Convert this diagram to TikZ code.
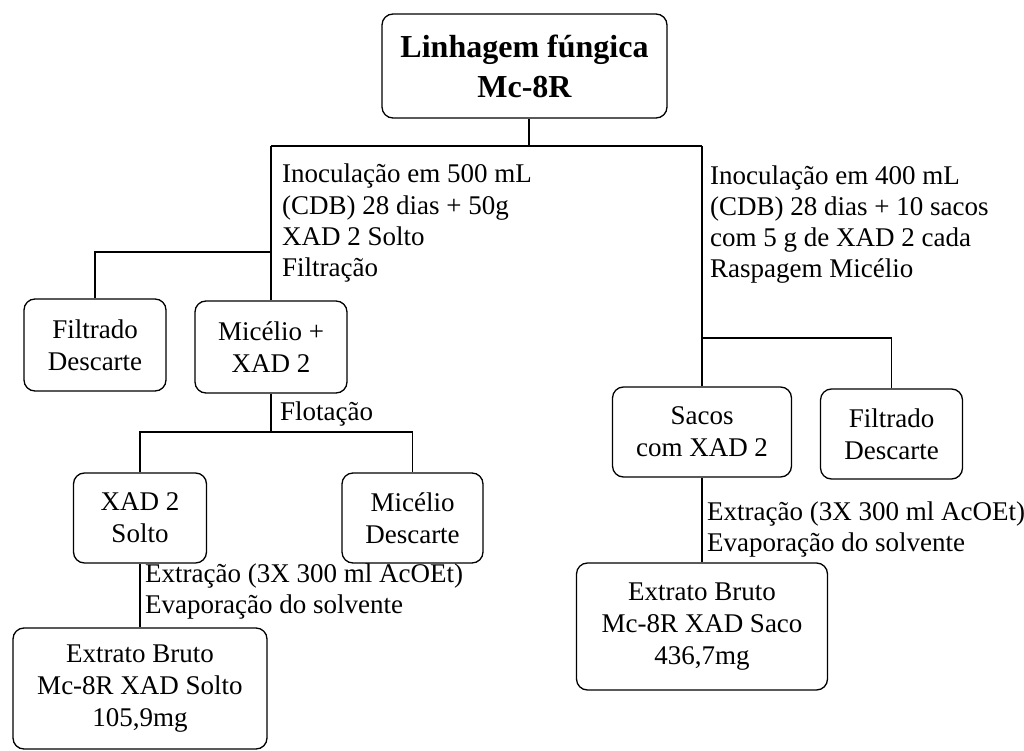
\documentclass[tikz,border=0pt]{standalone}
\usepackage{fontspec}
\setmainfont{Liberation Serif}
\begin{document}
\begin{tikzpicture}[x=1pt,y=-1pt,
  box/.style={draw, line width=1.3pt, rounded corners=11pt, align=center,
    inner sep=0pt, font=\fontsize{27}{32}\selectfont},
  note/.style={anchor=base west, inner sep=0pt, align=left,
    font=\fontsize{27}{31}\selectfont},
  link/.style={line width=1.3pt}]
\useasboundingbox (0,0) rectangle (1024,751);

% boxes
\node[box, minimum width=285pt, minimum height=104pt,
      font=\fontsize{32}{40}\selectfont\bfseries] (top) at (524.5,66) {Linhagem fúngica\\Mc-8R};
\node[box, minimum width=142pt, minimum height=92pt] (filtL) at (95,345) {Filtrado\\Descarte};
\node[box, minimum width=152pt, minimum height=92pt] (mic) at (271,347) {Micélio +\\XAD 2};
\node[box, minimum width=133pt, minimum height=90pt] (xad) at (140,518) {XAD 2\\Solto};
\node[box, minimum width=141pt, minimum height=90pt] (micD) at (412.5,518) {Micélio\\Descarte};
\node[box, minimum width=254pt, minimum height=121pt] (extL) at (140,688.5) {Extrato Bruto\\Mc-8R XAD Solto\\105,9mg};
\node[box, minimum width=179pt, minimum height=90pt] (sacos) at (702,432) {Sacos\\com XAD 2};
\node[box, minimum width=142pt, minimum height=90pt] (filtR) at (891.5,434) {Filtrado\\Descarte};
\node[box, minimum width=251pt, minimum height=127pt] (extR) at (702,626.5) {Extrato Bruto\\Mc-8R XAD Saco\\436,7mg};

% junction points
\coordinate (jT) at (529,146);
\coordinate (jL) at (271,146);
\coordinate (jR) at (702,146);
\coordinate (jL2) at (271,252);
\coordinate (jR2) at (702,338);
\coordinate (jF) at (271,432);

% connectors
\draw[link] (top.south -| jT) -- (jT);
\draw[link] (jL) -- (jR);
\draw[link] (jL) -- (mic.north);
\draw[link] (filtL.north) |- (jL2);
\draw[link] (jR) -- (sacos.north);
\draw[link] (filtR.north) |- (jR2);
\draw[link] (mic.south) -- (jF);
\draw[link] (xad.north) |- (jF) -| (micD.north);
\draw[link] (xad.south) -- (extL.north);
\draw[link] (sacos.south) -- (extR.north);

% step labels (anchored at the baseline of their last line)
\node[note] (lblL) at (282,276) {Inoculação em 500 mL\\(CDB) 28 dias + 50g\\XAD 2 Solto\\Filtração};
\node[note] (lblR) at (710,277) {Inoculação em 400 mL\\(CDB) 28 dias + 10 sacos\\com 5 g de XAD 2 cada\\Raspagem Micélio};
\node[note] (lblF) at (280,420) {Flotação};
\node[note] (lblEL) at (145,613) {Extração (3X 300 ml AcOEt)\\Evaporação do solvente};
\node[note] (lblER) at (707,551) {Extração (3X 300 ml AcOEt)\\Evaporação do solvente};
\end{tikzpicture}
\end{document}
